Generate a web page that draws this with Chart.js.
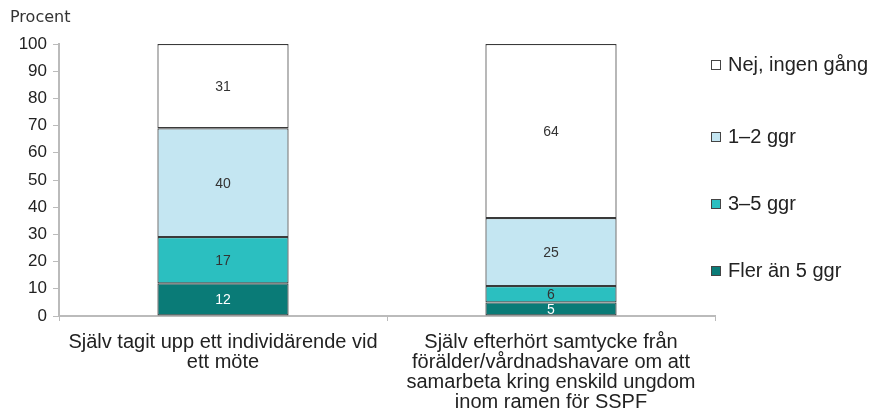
<!DOCTYPE html>
<html>
<head>
<meta charset="utf-8">
<script src="https://cdn.jsdelivr.net/npm/chart.js@4"></script>
<style>
  html, body { margin: 0; padding: 0; background: #fff; }
  #wrap { position: relative; width: 875px; height: 417px; }
  #legend { position: absolute; left: 711px; top: 0; font-family: "Liberation Sans", Arial, sans-serif; font-size: 20px; color: #222; }
  .item { position: absolute; left: 0; white-space: nowrap; display: flex; align-items: center; }
  .box { width: 8px; height: 8px; border: 1px solid #444; margin-right: 7px; }
</style>
</head>
<body>
<div id="wrap">
  <canvas id="chart" width="875" height="417"></canvas>
  <div id="legend"></div>
</div>
<script>
// kategorier och värden (procent)
const categories = [
    ["Själv tagit upp ett individärende vid", "ett möte"],
    ["Själv efterhört samtycke från", "förälder/vårdnadshavare om att", "samarbeta kring enskild ungdom", "inom ramen för SSPF"]
];
const seriesNames = ["Fler än 5 ggr", "3–5 ggr", "1–2 ggr", "Nej, ingen gång"];
const flerAn5 = [12, 5];
const tre5 = [17, 6];
const ett2 = [40, 25];
const nej = [31, 64];
const colors = ["#0A7B77", "#2BBFC0", "#C4E6F2", "#FFFFFF"];
const labelColors = ["#FFFFFF", "#333333", "#333333", "#333333"];
const yTicks = [0, 10, 20, 30, 40, 50, 60, 70, 80, 90, 100];

const allSeries = [flerAn5, tre5, ett2, nej];

// etiketter i staplarna
const valueLabels = {
    id: "valueLabels",
    afterDatasetsDraw(chart) {
        const ctx = chart.ctx;
        ctx.save();
        ctx.font = "14px 'Liberation Sans', Arial, sans-serif";
        ctx.textAlign = "center";
        ctx.textBaseline = "middle";
        chart.data.datasets.forEach((ds, i) => {
            chart.getDatasetMeta(i).data.forEach((bar, j) => {
                ctx.fillStyle = labelColors[i];
                ctx.fillText(ds.data[j], bar.x, (bar.y + bar.base) / 2 + 1);
            });
        });
        ctx.fillStyle = "#333";
        ctx.font = "16px 'DejaVu Sans', Verdana, sans-serif";
        ctx.textAlign = "left";
        ctx.fillText("Procent", 10, 18);
        ctx.restore();
    }
};

new Chart(document.getElementById("chart"), {
    type: "bar",
    data: {
        labels: categories,
        datasets: allSeries.map((d, i) => ({
            label: seriesNames[i],
            data: d,
            backgroundColor: colors[i],
            borderColor: "#3a3a3a",
            borderWidth: 1.2,
            borderSkipped: false,
            barPercentage: 0.8,
            categoryPercentage: 0.5
        }))
    },
    options: {
        responsive: false,
        animation: false,
        layout: { padding: { top: 44, right: 160, left: 0, bottom: 0 } },
        plugins: { legend: { display: false }, tooltip: { enabled: false } },
        scales: {
            x: {
                stacked: true,
                offset: true,
                grid: { offset: true, drawOnChartArea: false, color: "#bbb", tickLength: 5 },
                border: { color: "#bbb", width: 2 },
                ticks: {
                    color: "#222",
                    font: { family: "'Liberation Sans', Arial, sans-serif", size: 20, lineHeight: "20px" },
                    maxRotation: 0,
                    autoSkip: false,
                    padding: 11
                },
                afterFit(s) { s.height = 101; }
            },
            y: {
                stacked: true,
                min: 0,
                max: 100,
                afterBuildTicks(s) { s.ticks = yTicks.map(v => ({ value: v })); },
                grid: { drawOnChartArea: false, color: "#bbb", tickLength: 6 },
                border: { color: "#bbb", width: 2 },
                ticks: {
                    color: "#222",
                    font: { family: "'Liberation Sans', Arial, sans-serif", size: 17 },
                    padding: 6
                },
                afterFit(s) { s.width = 59; }
            }
        }
    },
    plugins: [valueLabels]
});

// legend i omvänd ordning
const legendTops = [65, 137, 204, 271];
const legend = document.getElementById("legend");
[3, 2, 1, 0].forEach((i, k) => {
    const el = document.createElement("div");
    el.className = "item";
    el.style.top = (legendTops[k] - 12) + "px";
    el.innerHTML = `<span class="box" style="background:${colors[i]}"></span>${seriesNames[i]}`;
    legend.appendChild(el);
});
</script>
</body>
</html>
